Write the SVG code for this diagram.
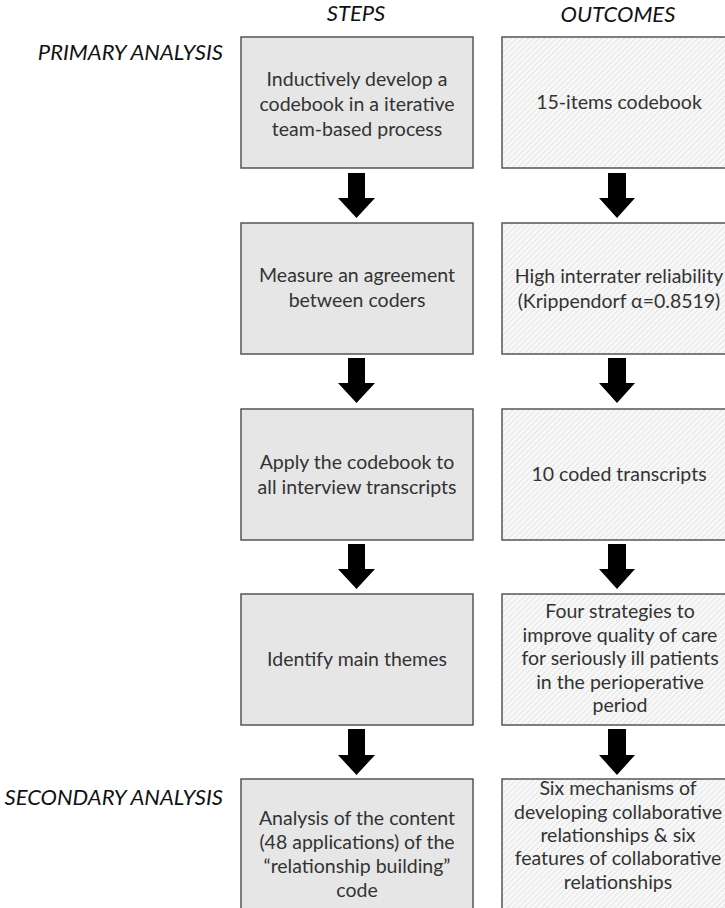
<svg xmlns="http://www.w3.org/2000/svg" width="725" height="908" viewBox="0 0 725 908">
<style>
.hdr{font-family:Lato,"Liberation Sans",sans-serif;font-style:italic;font-size:22px;fill:#111}
.t{font-family:Lato,"Liberation Sans",sans-serif;font-size:19.5px;fill:#333;text-anchor:middle}
.step{fill:#e6e6e6;stroke:#555;stroke-width:1.5}
.out{fill:url(#hatch);stroke:#555;stroke-width:1.5}
.arr{fill:#000}
</style>
<defs>
<pattern id="hatch" patternUnits="userSpaceOnUse" width="4" height="4" patternTransform="rotate(45)">
<rect width="4" height="4" fill="#f8f8f8"/>
<line x1="0" y1="0" x2="0" y2="4" stroke="#d9d9d9" stroke-width="1.2"/>
</pattern>
</defs>
<rect width="725" height="908" fill="#fff"/>

<g id="headers">
<text class="hdr" x="356" y="21" text-anchor="middle">STEPS</text>
<text class="hdr" x="618" y="22" text-anchor="middle">OUTCOMES</text>
<text class="hdr" x="223" y="60" text-anchor="end">PRIMARY ANALYSIS</text>
<text class="hdr" x="223" y="805" text-anchor="end">SECONDARY ANALYSIS</text>
</g>

<g id="step1"><rect class="step" x="241" y="37" width="232" height="131"/>
<text class="t" x="357" y="86">Inductively develop a</text>
<text class="t" x="357" y="111">codebook in a iterative</text>
<text class="t" x="357" y="136">team-based process</text></g>
<g id="out1"><rect class="out" x="502" y="37" width="232" height="131"/>
<text class="t" x="619" y="109">15-items codebook</text></g>

<g id="step2"><rect class="step" x="241" y="223" width="232" height="131"/>
<text class="t" x="357" y="282">Measure an agreement</text>
<text class="t" x="357" y="307">between coders</text></g>
<g id="out2"><rect class="out" x="502" y="223" width="232" height="131"/>
<text class="t" x="619" y="283">High interrater reliability</text>
<text class="t" x="619" y="308">(Krippendorf α=0.8519)</text></g>

<g id="step3"><rect class="step" x="241" y="409" width="232" height="131"/>
<text class="t" x="357" y="469">Apply the codebook to</text>
<text class="t" x="357" y="494">all interview transcripts</text></g>
<g id="out3"><rect class="out" x="502" y="409" width="232" height="131"/>
<text class="t" x="619" y="481">10 coded transcripts</text></g>

<g id="step4"><rect class="step" x="241" y="594" width="232" height="131"/>
<text class="t" x="357" y="666">Identify main themes</text></g>
<g id="out4"><rect class="out" x="502" y="594" width="232" height="131"/>
<text class="t" x="620" y="618">Four strategies to</text>
<text class="t" x="620" y="641.5">improve quality of care</text>
<text class="t" x="620" y="665">for seriously ill patients</text>
<text class="t" x="620" y="688.5">in the perioperative</text>
<text class="t" x="620" y="712">period</text></g>

<g id="step5"><rect class="step" x="241" y="779" width="232" height="140"/>
<text class="t" x="357" y="825">Analysis of the content</text>
<text class="t" x="357" y="849">(48 applications) of the</text>
<text class="t" x="357" y="873">“relationship building”</text>
<text class="t" x="357" y="897">code</text></g>
<g id="out5"><rect class="out" x="502" y="779" width="232" height="140"/>
<text class="t" x="618" y="795">Six mechanisms of</text>
<text class="t" x="618" y="818.5">developing collaborative</text>
<text class="t" x="618" y="842">relationships &amp; six</text>
<text class="t" x="618" y="865">features of collaborative</text>
<text class="t" x="618" y="889">relationships</text></g>

<g id="connectors">
<polygon class="arr" points="348,173 365,173 365,198 375,198 356.5,218 338,198 348,198"/>
<polygon class="arr" points="348,358 365,358 365,383 375,383 356.5,403 338,383 348,383"/>
<polygon class="arr" points="348,544 365,544 365,569 375,569 356.5,589 338,569 348,569"/>
<polygon class="arr" points="348,729 365,729 365,755 375,755 356.5,775 338,755 348,755"/>
<polygon class="arr" points="608,173 626,173 626,198 635,198 617,218 599,198 608,198"/>
<polygon class="arr" points="608,358 626,358 626,383 635,383 617,403 599,383 608,383"/>
<polygon class="arr" points="608,544 626,544 626,569 635,569 617,589 599,569 608,569"/>
<polygon class="arr" points="608,729 626,729 626,755 635,755 617,775 599,755 608,755"/>
</g>
</svg>
